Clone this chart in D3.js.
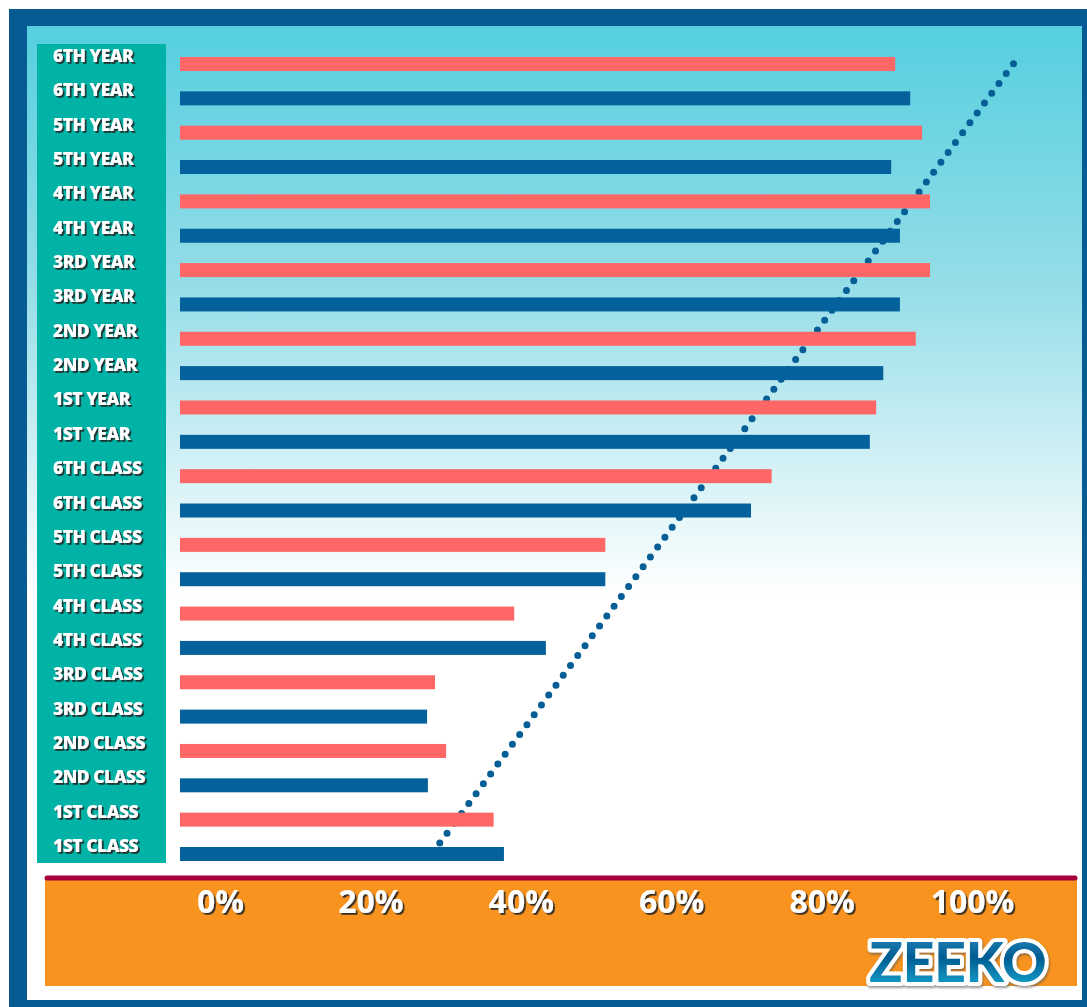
<!DOCTYPE html>
<html>
<head>
<meta charset="utf-8">
<script src="https://cdn.jsdelivr.net/npm/d3@7"></script>
<style>
  body { margin: 0; background: #fff; }
  svg { display: block; }
</style>
</head>
<body>
<div id="chart"></div>
<script>
// chart data (percent)
var categories = ["6TH YEAR", "5TH YEAR", "4TH YEAR", "3RD YEAR", "2ND YEAR", "1ST YEAR",
  "6TH CLASS", "5TH CLASS", "4TH CLASS", "3RD CLASS", "2ND CLASS", "1ST CLASS"];
var pinkValues = [90.3, 93.7, 94.7, 94.7, 92.9, 87.9, 74.7, 53.7, 42.2, 32.2, 33.6, 39.6];
var blueValues = [92.2, 89.8, 90.9, 90.9, 88.8, 87.1, 72.1, 53.7, 46.2, 31.2, 31.3, 40.9];
var tickValues = [0, 20, 40, 60, 80, 100];
// dotted trend line end points (row index, percent)
var trendRows = [22.68, -0.06];
var trendValues = [32.8, 105.4];

var svgWidth = 1087;
var svgHeight = 1007;

var svg = d3.select("#chart")
  .append("svg")
  .attr("width", svgWidth)
  .attr("height", svgHeight);

var defs = svg.append("defs");

var bg = defs.append("linearGradient")
  .attr("id", "bgGrad")
  .attr("gradientUnits", "userSpaceOnUse")
  .attr("x1", 0).attr("y1", 26)
  .attr("x2", 0).attr("y2", 595);
bg.append("stop").attr("offset", "0%").attr("stop-color", "#55cfdf");
bg.append("stop").attr("offset", "45%").attr("stop-color", "#94dde8");
bg.append("stop").attr("offset", "100%").attr("stop-color", "#ffffff");

var logoGrad = defs.append("linearGradient")
  .attr("id", "logoGrad")
  .attr("x1", 0).attr("y1", 0).attr("x2", 0).attr("y2", 1);
logoGrad.append("stop").attr("offset", "0%").attr("stop-color", "#2b8fc4");
logoGrad.append("stop").attr("offset", "45%").attr("stop-color", "#005c92");
logoGrad.append("stop").attr("offset", "100%").attr("stop-color", "#1bb3da");

var shadow = defs.append("filter")
  .attr("id", "shadow")
  .attr("x", "-20%").attr("y", "-30%")
  .attr("width", "150%").attr("height", "170%");
shadow.append("feDropShadow")
  .attr("dx", 1.8).attr("dy", 1.8)
  .attr("stdDeviation", 0.6)
  .attr("flood-color", "#222")
  .attr("flood-opacity", 0.9);

var logoShadow = defs.append("filter")
  .attr("id", "logoShadow")
  .attr("x", "-20%").attr("y", "-30%")
  .attr("width", "150%").attr("height", "170%");
logoShadow.append("feDropShadow")
  .attr("dx", 1).attr("dy", 2)
  .attr("stdDeviation", 1.2)
  .attr("flood-color", "#555")
  .attr("flood-opacity", 0.6);

// frame
svg.append("rect")
  .attr("x", 9).attr("y", 9)
  .attr("width", 1078).attr("height", 998)
  .attr("fill", "#065b92");

svg.append("rect")
  .attr("x", 27).attr("y", 26)
  .attr("width", 1055).attr("height", 974)
  .attr("fill", "url(#bgGrad)");

// label panel
svg.append("rect")
  .attr("x", 37).attr("y", 44)
  .attr("width", 129).attr("height", 819)
  .attr("fill", "#00b3a6");

// scales
var x = d3.scaleLinear().domain([0, 100]).range([180, 972]);
var xTicks = d3.scaleLinear().domain([0, 100]).range([220, 972]);
var y = d3.scalePoint().domain(d3.range(24)).range([64, 854]);
var yRow = d3.scaleLinear().domain([0, 23]).range([64, 854]);
var barHeight = 14;

var rows = [];
categories.forEach(function(c, i) {
  rows.push({ label: c, value: pinkValues[i], color: "#ff6666", idx: i * 2 });
  rows.push({ label: c, value: blueValues[i], color: "#04619c", idx: i * 2 + 1 });
});

// dotted trend line (drawn under the bars)
var trend = trendRows.map(function(r, i) { return [x(trendValues[i]), yRow(r)]; });
svg.append("path")
  .attr("d", d3.line()(trend))
  .attr("fill", "none")
  .attr("stroke", "#065e96")
  .attr("stroke-width", 7)
  .attr("stroke-linecap", "round")
  .attr("stroke-dasharray", "0 12.25");

// bars
svg.append("g")
  .selectAll("rect")
  .data(rows)
  .enter()
  .append("rect")
  .attr("x", x(0))
  .attr("y", d => y(d.idx) - barHeight / 2)
  .attr("width", d => x(d.value) - x(0))
  .attr("height", barHeight)
  .attr("fill", d => d.color);

// row labels
svg.append("g")
  .selectAll("text")
  .data(rows)
  .enter()
  .append("text")
  .attr("x", 53)
  .attr("y", d => y(d.idx) - 2)
  .attr("fill", "#fff")
  .attr("font-family", "'Open Sans', sans-serif")
  .attr("font-weight", 800)
  .attr("font-size", 17.5)
  .attr("letter-spacing", -0.5)
  .attr("filter", "url(#shadow)")
  .text(d => d.label);

// footer band
svg.append("rect")
  .attr("x", 45).attr("y", 877)
  .attr("width", 1032).attr("height", 109)
  .attr("fill", "#f7931e");

svg.append("line")
  .attr("x1", 47).attr("x2", 1075)
  .attr("y1", 878).attr("y2", 878)
  .attr("stroke", "#a6003c")
  .attr("stroke-width", 5)
  .attr("stroke-linecap", "round");

// percent axis
var bottomAxis = d3.axisBottom(xTicks)
  .tickValues(tickValues)
  .tickFormat(d => d + "%")
  .tickSize(0);

var xAxis = svg.append("g")
  .attr("transform", "translate(0, 880)")
  .call(bottomAxis);
xAxis.select(".domain").remove();
xAxis.selectAll("text")
  .attr("dy", null)
  .attr("y", 33)
  .attr("fill", "#fff")
  .attr("font-family", "'Open Sans', sans-serif")
  .attr("font-weight", 700)
  .attr("font-size", 32)
  .attr("filter", "url(#shadow)");

// logo
svg.append("text")
  .attr("x", 958)
  .attr("y", 982)
  .attr("text-anchor", "middle")
  .attr("font-family", "Lato, sans-serif")
  .attr("font-weight", 900)
  .attr("font-size", 55)
  .attr("fill", "url(#logoGrad)")
  .attr("stroke", "#fff")
  .attr("stroke-width", 8)
  .attr("stroke-linejoin", "round")
  .attr("paint-order", "stroke")
  .attr("filter", "url(#logoShadow)")
  .text("ZEEKO");
</script>
</body>
</html>
